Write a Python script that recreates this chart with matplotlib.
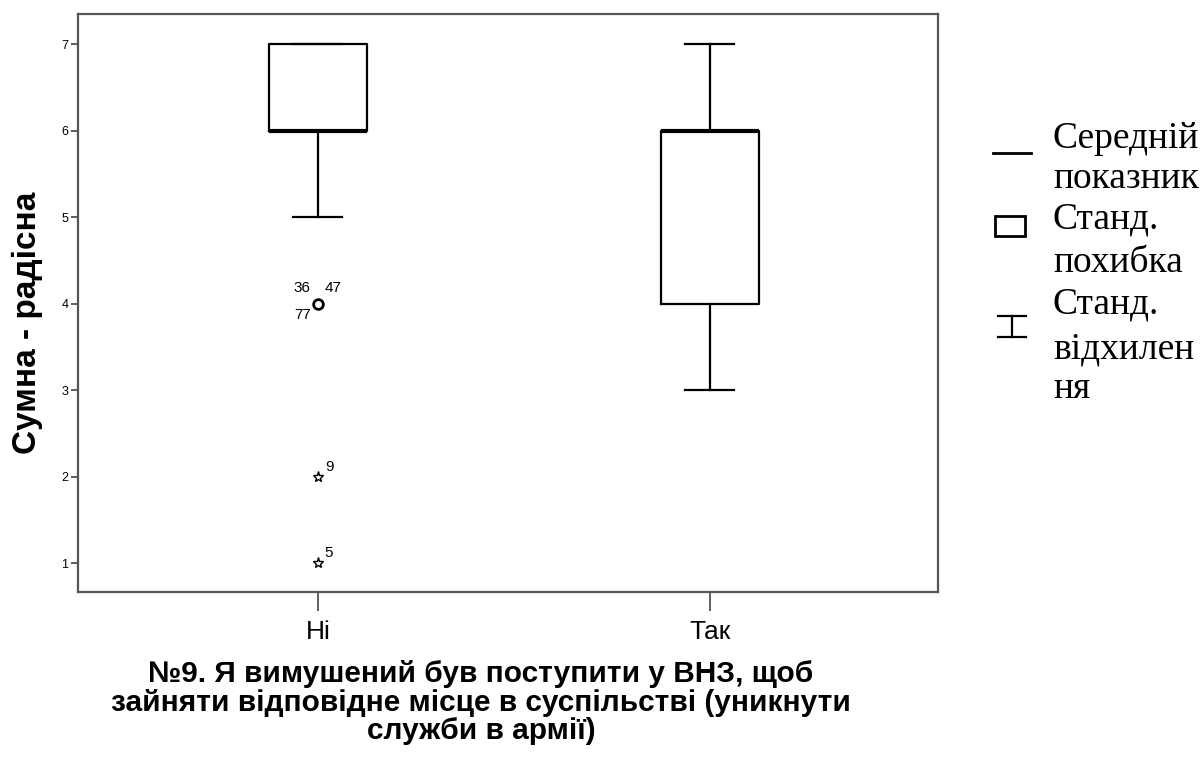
import matplotlib
matplotlib.use("Agg")
import matplotlib.pyplot as plt
from matplotlib.patches import Rectangle

plt.rcParams["font.family"] = ["Liberation Sans", "DejaVu Sans"]

# ---- data ----
groups = ["Ні", "Так"]
q1 = [6, 4]
med = [6, 6]
q3 = [7, 6]
whislo = [5, 3]
whishi = [7, 7]

# outliers (circle) and extremes (star) for group "Ні"
outlier_vals = [4]
outlier_labels = [["36", "47", "77"]]
extreme_vals = [2, 1]
extreme_labels = ["9", "5"]

yticks = [1, 2, 3, 4, 5, 6, 7]
ylabel = "Сумна - радісна"
xlabel = "№9. Я вимушений був поступити у ВНЗ, щоб\nзайняти відповідне місце в суспільстві (уникнути\nслужби в армії)"
legend_text = ["Середній", "показник", "Станд.", "похибка", "Станд.", "відхилен", "ня"]

W, H = 1202, 765
fig = plt.figure(figsize=(W / 100, H / 100), dpi=100)
ax = fig.add_axes([78 / W, 1 - 592 / H, 860 / W, 578 / H])

stats = []
for i, g in enumerate(groups):
    stats.append(dict(label=g, med=med[i], q1=q1[i], q3=q3[i],
                      whislo=whislo[i], whishi=whishi[i], fliers=[]))

ax.bxp(stats, positions=range(len(groups)), widths=0.25, showfliers=False,
       boxprops=dict(color="black", linewidth=1.6),
       medianprops=dict(color="black", linewidth=3),
       whiskerprops=dict(color="black", linewidth=1.6),
       capprops=dict(color="black", linewidth=1.6),
       capwidths=0.125)

# outliers
ax.plot([0] * len(outlier_vals), outlier_vals, "o", mfc="white", mec="black",
        mew=2, ms=7, zorder=5)
for v, labs in zip(outlier_vals, outlier_labels):
    ax.annotate(labs[0], (0, v), xytext=(-5, 6), textcoords="offset points",
                ha="right", va="bottom", fontsize=11)
    ax.annotate(labs[1], (0, v), xytext=(5, 6), textcoords="offset points",
                ha="left", va="bottom", fontsize=11)
    ax.annotate(labs[2], (0, v), xytext=(-5, -3), textcoords="offset points",
                ha="right", va="top", fontsize=11)

ax.plot([0] * len(extreme_vals), extreme_vals, "*", mfc="white", mec="black",
        mew=1, ms=8, zorder=5)
for v, lab in zip(extreme_vals, extreme_labels):
    ax.annotate(lab, (0, v), xytext=(5, 2), textcoords="offset points",
                ha="left", va="bottom", fontsize=11)

ax.set_xlim(-0.612, 1.582)
ax.set_ylim(0.665, 7.347)
ax.set_yticks(yticks)
ax.set_yticklabels([str(t) for t in yticks], fontsize=9)
ax.set_xticks(range(len(groups)))
ax.set_xticklabels(groups, fontsize=19)
ax.tick_params(axis="y", length=5, width=1.2, color="#444444", pad=2)
ax.tick_params(axis="x", length=14, width=1.2, color="#444444", pad=6)
for s in ax.spines.values():
    s.set_color("#555555")
    s.set_linewidth(1.6)

ax.set_ylabel(ylabel, fontsize=24, fontweight="bold")
ax.yaxis.set_label_coords(-0.041, 0.465)
ax.set_xlabel(xlabel, fontsize=21.5, fontweight="bold", linespacing=1.02)
ax.xaxis.set_label_coords(0.4686, -0.118)

# ---- legend drawn in pixel overlay ----
lg = fig.add_axes([0, 0, 1, 1])
lg.set_xlim(0, W)
lg.set_ylim(H, 0)
lg.axis("off")
lg.plot([993, 1031], [153, 153], color="black", lw=2)
lg.add_patch(Rectangle((995, 216), 30, 20, fill=False, ec="black", lw=2))
lg.plot([998, 1026], [316, 316], color="black", lw=1.6)
lg.plot([998, 1026], [337, 337], color="black", lw=1.6)
lg.plot([1012, 1012], [316, 337], color="black", lw=1.6)
line_y = [148, 188, 228, 272, 313, 358, 398]
for t, y in zip(legend_text, line_y):
    lg.text(1053, y, t, family="Liberation Serif", fontsize=27,
            va="baseline", ha="left")

fig.savefig("out.png", dpi=100)
